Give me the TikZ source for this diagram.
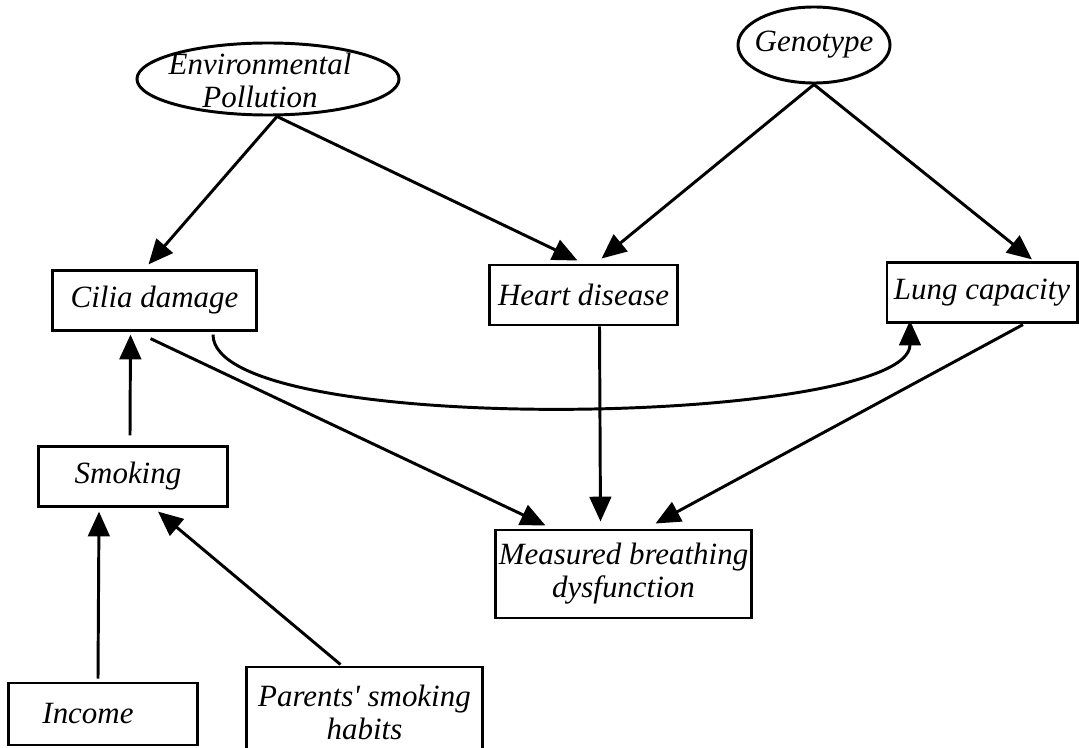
\documentclass[tikz,border=0pt]{standalone}
\usepackage{fontspec}
\setmainfont{Liberation Serif}
\usetikzlibrary{arrows.meta, shapes.geometric, calc}

\begin{document}
\begin{tikzpicture}[x=0.025cm, y=-0.025cm,
    every node/.style={font=\itshape\fontsize{22}{23.5}\selectfont},
    box/.style={draw, line width=2.1pt, inner sep=2pt, align=center},
    latent/.style={draw, ellipse, line width=2.1pt, inner sep=0pt},
    lbl/.style={align=center, inner sep=0pt},
    arr/.style={-{Triangle[length=0.62cm, width=0.54cm]}, line width=2.1pt}]
    \useasboundingbox (0,0) rectangle (1079,748);
    % latent causes
    \node[latent, minimum width=6.55cm, minimum height=1.8cm] (env)  at (268,79) {};
    \node[lbl] (envtext) at (260,80) {Environmental\\Pollution};
    \node[latent, minimum width=3.8cm, minimum height=1.9cm]  (geno) at (814,45) {};
    \node[lbl] (genotext) at (geno) {Genotype};
    % observed variables
    \node[box, minimum width=5.08cm, minimum height=1.48cm] (cilia) at (154.5,300.5) {Cilia damage};
    \node[box, minimum width=4.68cm, minimum height=1.5cm]  (heart) at (583.5,295) {Heart disease};
    \node[box, minimum width=4.75cm, minimum height=1.48cm] (lung)  at (982,292.5) {Lung capacity};
    \node[box, minimum width=4.7cm, minimum height=1.48cm]  (smoke) at (133,476.5) {Smoking\hspace{0.25cm}};
    \node[box, minimum width=4.7cm, minimum height=1.55cm]  (income) at (103,714) {Income\hspace{0.75cm}};
    \node[box, minimum width=5.88cm, minimum height=2.25cm] (parents) at (364.5,712) {Parents\textquotesingle{} smoking\\habits};
    \node[box, minimum width=6.33cm, minimum height=2.2cm]  (meas) at (623.5,574) {Measured breathing\\dysfunction};

    \draw[arr] ($(env.south)+(9,0)$) -- ($(cilia.north)+(-6,-5)$);
    \draw[arr] ($(env.south)+(9,0)$) -- ($(heart.north)+(-6,-3)$);
    \draw[arr] (geno.south) -- ($(heart.north)+(18,-5)$);
    \draw[arr] (geno.south) -- ($(lung.north)+(50,-2)$);
    \draw[arr] ($(cilia.south)+(-4,7)$) -- ($(meas.north)+(-78,-3)$);
    \draw[arr] ($(heart.south)+(16,0)$) -- ($(meas.north)+(-23,-7)$);
    \draw[arr] ($(lung.south)+(41,1)$) -- ($(meas.north)+(32,-5)$);
    \draw[arr] ($(cilia.south)+(58.5,3)$) .. controls +(0,105) and +(0,105) .. ($(lung.south)+(-72,-3)$);
    \draw[arr] ($(smoke.north)+(-3,-10)$) -- ($(cilia.south)+(-24,3)$);
    \draw[arr] ($(income.north)+(-5,-3)$) -- ($(smoke.south)+(-34,4)$);
    \draw[arr] ($(parents.north)+(-24,-1)$) -- ($(smoke.south)+(25,4)$);
\end{tikzpicture}
\end{document}
